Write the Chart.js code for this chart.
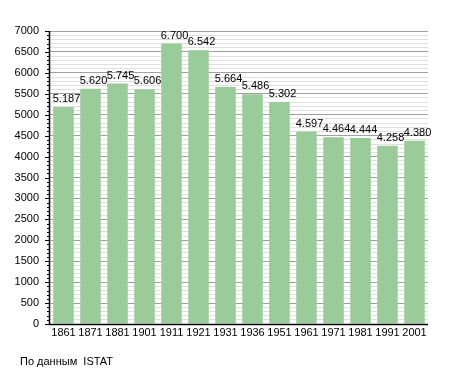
<!DOCTYPE html>
<html lang="ru">
<head>
<meta charset="UTF-8" />
<script src="https://cdn.jsdelivr.net/npm/chart.js"></script>
<style>
  body { margin: 0; background: #fff; }
  .tela { position: relative; width: 455px; height: 373px; }
  #fonte { position: absolute; left: 20px; top: 355px; font: 11px "Liberation Sans", Arial, sans-serif; color: #000; }
</style>
</head>
<body>
<div class="tela">
  <canvas id="grafico" width="455" height="373"></canvas>
  <div id="fonte">По данным &nbsp;ISTAT</div>
</div>
<script>
  const anos = ["1861", "1871", "1881", "1901", "1911", "1921", "1931", "1936", "1951", "1961", "1971", "1981", "1991", "2001"];
  const populacao = [5187, 5620, 5745, 5606, 6700, 6542, 5664, 5486, 5302, 4597, 4464, 4444, 4258, 4380];
  const rotulos = ["5.187", "5.620", "5.745", "5.606", "6.700", "6.542", "5.664", "5.486", "5.302", "4.597", "4.464", "4.444", "4.258", "4.380"];

  const fonte = "Liberation Sans";

  // rotulos acima das barras
  const valores = {
    id: "valores",
    afterDatasetsDraw(chart) {
      const ctx = chart.ctx;
      const meta = chart.getDatasetMeta(0);
      ctx.save();
      ctx.font = "11px " + fonte;
      ctx.fillStyle = "#000";
      ctx.textAlign = "center";
      ctx.textBaseline = "alphabetic";
      meta.data.forEach((barra, i) => {
        ctx.fillText(rotulos[i], barra.x + 3, barra.y - 5);
      });
      ctx.restore();
    }
  };

  // tracinhos do eixo y (menores a cada 100, maiores a cada 500)
  const tracos = {
    id: "tracos",
    afterDraw(chart) {
      const ctx = chart.ctx;
      const y = chart.scales.y;
      const x0 = chart.chartArea.left;
      ctx.save();
      ctx.strokeStyle = "#000";
      ctx.lineWidth = 1;
      for (let v = 0; v <= 7000; v += 100) {
        const py = Math.round(y.getPixelForValue(v)) + 0.5;
        const len = v % 500 === 0 ? 5 : 3;
        ctx.beginPath();
        ctx.moveTo(x0 - len, py);
        ctx.lineTo(x0, py);
        ctx.stroke();
      }
      ctx.beginPath();
      ctx.moveTo(x0 - 0.5, chart.chartArea.top);
      ctx.lineTo(x0 - 0.5, chart.chartArea.bottom + 1);
      ctx.lineWidth = 1.5;
      ctx.stroke();
      ctx.beginPath();
      ctx.moveTo(x0 - 1, chart.chartArea.bottom + 0.5);
      ctx.lineTo(chart.chartArea.right, chart.chartArea.bottom + 0.5);
      ctx.lineWidth = 1.5;
      ctx.stroke();
      ctx.restore();
    }
  };

  const config = {
    type: "bar",
    data: {
      labels: anos,
      datasets: [{
        data: populacao,
        backgroundColor: "#99cc99",
        borderWidth: 0,
        categoryPercentage: 0.76,
        barPercentage: 1
      }]
    },
    options: {
      responsive: false,
      animation: false,
      events: [],
      layout: { padding: { left: 0, right: 27, top: 31, bottom: 19 } },
      plugins: { legend: { display: false }, tooltip: { enabled: false } },
      scales: {
        x: {
          grid: { display: false, drawTicks: false },
          border: { display: false },
          ticks: { color: "#000", font: { family: fonte, size: 11 }, padding: 2, maxRotation: 0, minRotation: 0, autoSkip: false },
          afterFit(scale) { scale.height = 30; }
        },
        y: {
          min: 0,
          max: 7000,
          border: { display: false },
          grid: {
            drawTicks: false,
            color: (c) => c.tick.value % 500 === 0 ? "#a0a0a0" : "#e0e0e0",
            lineWidth: 1
          },
          ticks: {
            stepSize: 100,
            autoSkip: false,
            padding: 11,
            color: "#000",
            font: { family: fonte, size: 11 },
            callback: (v) => v % 500 === 0 ? v : ""
          },
          afterFit(scale) { scale.width = 50; }
        }
      }
    },
    plugins: [valores, tracos]
  };

  new Chart(document.getElementById("grafico").getContext("2d"), config);
</script>
</body>
</html>
